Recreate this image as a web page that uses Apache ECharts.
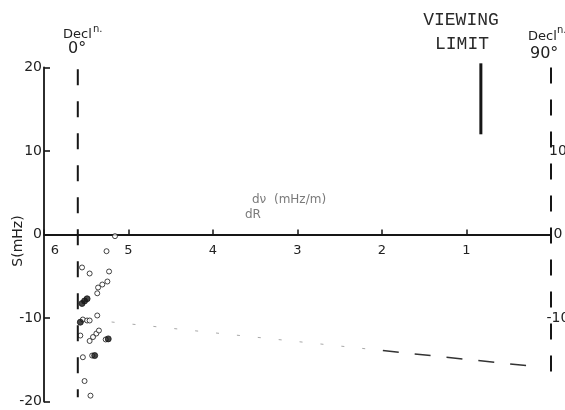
<!DOCTYPE html>
<html><head><meta charset="utf-8">
<script src="https://cdn.jsdelivr.net/npm/echarts@6/dist/echarts.min.js"></script>
<style>html,body{margin:0;padding:0;background:#fff}#c{width:565px;height:410px}</style>
</head><body><div id="c"></div>
<script>
// x: dν/dR (mHz/m), axis reversed 6 -> 0 ; y: S (mHz)
const xTicks = [0, 1, 2, 3, 4, 5, 6];
const yTicks = [-20, -10, 0, 10, 20];
const rightTickLabels = [10, 0, -10];

const openPoints = [
  [5.16, -0.2], [5.26, -2.0], [5.55, -3.95], [5.46, -4.67], [5.23, -4.43],
  [5.25, -5.63], [5.31, -5.99], [5.36, -6.35], [5.37, -7.04], [5.37, -9.7],
  [5.54, -10.18], [5.49, -10.3], [5.46, -10.3], [5.57, -12.1], [5.46, -12.75],
  [5.42, -12.28], [5.38, -11.86], [5.35, -11.5], [5.27, -12.57], [5.54, -14.7],
  [5.43, -14.5], [5.52, -17.55], [5.45, -19.3]
];
const filledPoints = [
  [5.52, -7.96], [5.55, -8.26], [5.49, -7.7], [5.57, -10.5], [5.40, -14.5], [5.24, -12.5]
];
const trendFaint = [[5.20, -10.48], [1.99, -13.9]];
const trendDashed = [[1.99, -13.9], [0.25, -15.75]];
const decl0Line = [[5.60, 19.8], [5.60, -19.5]];
const decl90Line = [[0, 20.0], [0, -17.9]];
const viewingLimit = [[0.83, 20.5], [0.83, 12.0]];

const chart = echarts.init(document.getElementById('c'), null, {renderer: 'canvas'});
const font = 'DejaVu Sans';
const ink = '#161616';
const gridTop = 67.5, gridBottom = 8.5;
const gridH = 410 - gridTop - gridBottom;

chart.setOption({
  animation: false,
  backgroundColor: '#fff',
  grid: {left: 44, right: 14, top: gridTop, bottom: gridBottom, containLabel: false, outerBoundsMode: 'none'},
  xAxis: {
    type: 'value', min: 0, max: 6, interval: 1, inverse: true, position: 'bottom',
    offset: -gridH / 2,
    axisLine: {onZero: false, lineStyle: {color: ink, width: 2}},
    axisTick: {inside: true, length: 5, lineStyle: {color: ink, width: 1.5}},
    splitLine: {show: false},
    axisLabel: {
      margin: 10, color: '#222', fontFamily: font, fontSize: 13,
      formatter: v => v === 0 ? '' : (v === 6 ? '{s|6}' : String(v)),
      rich: {s: {padding: [0, 0, 0, 22], fontSize: 13, fontFamily: font, color: '#222'}}
    }
  },
  yAxis: [{
    type: 'value', min: -20, max: 20, interval: 10, position: 'left',
    axisLine: {show: true, onZero: false, lineStyle: {color: ink, width: 1.8}},
    axisTick: {show: true, inside: true, length: 6, lineStyle: {color: ink, width: 1.6}},
    splitLine: {show: false},
    axisLabel: {margin: 2, color: '#222', fontFamily: font, fontSize: 14,
      formatter: v => yTicks.includes(v) ? String(v) : ''}
  }, {
    type: 'value', min: -20, max: 20, interval: 10, position: 'right',
    axisLine: {show: false, onZero: false}, axisTick: {show: false}, splitLine: {show: false},
    axisLabel: {margin: 7, align: 'center', color: '#222', fontFamily: font, fontSize: 14,
      formatter: v => rightTickLabels.includes(v) ? String(v) : ''}
  }],
  series: [
    {type: 'line', data: decl0Line, symbol: 'none', clip: false,
      lineStyle: {color: ink, width: 2, type: [16, 16]}},
    {type: 'line', data: decl90Line, symbol: 'none', clip: false,
      lineStyle: {color: ink, width: 2, type: [16, 16]}},
    {type: 'line', data: viewingLimit, symbol: 'none', clip: false,
      lineStyle: {color: ink, width: 3}},
    {type: 'line', data: trendFaint, symbol: 'none',
      lineStyle: {color: '#a8a8a8', width: 1, type: [3, 18]}},
    {type: 'line', data: trendDashed, symbol: 'none',
      lineStyle: {color: '#333', width: 1.5, type: [16, 16]}},
    {type: 'scatter', data: openPoints, symbol: 'circle', symbolSize: 5,
      itemStyle: {color: '#fff', borderColor: ink, borderWidth: 1}},
    {type: 'scatter', data: filledPoints, symbol: 'circle', symbolSize: 6,
      itemStyle: {color: ink, borderColor: ink, borderWidth: 1}}
  ],
  graphic: [
    {type: 'text', left: 63, top: 28, style: {text: 'Decl', font: '13px DejaVu Sans', fill: '#222'}},
    {type: 'text', left: 93, top: 24, style: {text: 'n.', font: '10px DejaVu Sans', fill: '#222'}},
    {type: 'text', left: 68, top: 41, style: {text: '0°', font: '16px DejaVu Sans', fill: '#222'}},
    {type: 'text', left: 528, top: 30, style: {text: 'Decl', font: '13px DejaVu Sans', fill: '#222'}},
    {type: 'text', left: 557, top: 25, style: {text: 'n.', font: '10px DejaVu Sans', fill: '#222'}},
    {type: 'text', left: 530, top: 46, style: {text: '90°', font: '16px DejaVu Sans', fill: '#222'}},
    {type: 'text', x: 461, y: 20, style: {text: 'VIEWING', font: '18px Liberation Mono', fill: '#2a2a2a', align: 'center', verticalAlign: 'middle'}},
    {type: 'text', x: 462, y: 44, style: {text: 'LIMIT', font: '18px Liberation Mono', fill: '#2a2a2a', align: 'center', verticalAlign: 'middle'}},
    {type: 'text', x: 252, y: 200, style: {text: 'dν  (mHz/m)', font: '12px DejaVu Sans', fill: '#7a7a7a', verticalAlign: 'middle'}},
    {type: 'text', x: 245, y: 215, style: {text: 'dR', font: '12px DejaVu Sans', fill: '#7a7a7a', verticalAlign: 'middle'}},
    {type: 'text', x: 18, y: 241, rotation: Math.PI / 2, style: {text: 'S(mHz)', font: '14px DejaVu Sans', fill: '#222', align: 'center', verticalAlign: 'middle'}}
  ]
});
</script></body></html>
